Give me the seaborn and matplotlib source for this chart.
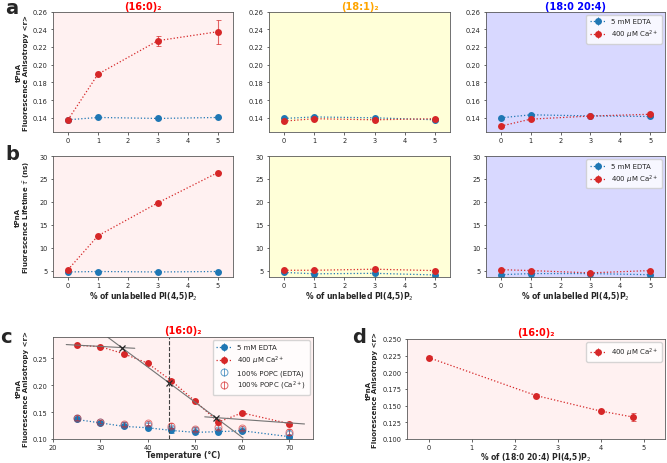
import numpy as np
import pandas as pd
import matplotlib.pyplot as plt
from matplotlib.lines import Line2D
from matplotlib.legend_handler import HandlerTuple
import seaborn as sns

sns.set_style("ticks")
plt.rcParams['font.family'] = ['DejaVu Sans']
plt.rcParams['font.size'] = 5
plt.rcParams['axes.linewidth'] = 0.6
plt.rcParams['axes.edgecolor'] = '0.35'
plt.rcParams['xtick.major.size'] = 1.8
plt.rcParams['ytick.major.size'] = 1.8
plt.rcParams['xtick.major.width'] = 0.5
plt.rcParams['ytick.major.width'] = 0.5
plt.rcParams['xtick.labelsize'] = 4.8
plt.rcParams['ytick.labelsize'] = 4.8
plt.rcParams['xtick.major.pad'] = 1.6
plt.rcParams['ytick.major.pad'] = 2

# ---- data ----
pip2_pct = [0, 1, 3, 5]

# anisotropy (row a)
aniso_160_edta = [0.1378, 0.1404, 0.1393, 0.1404]
aniso_160_ca = [0.1378, 0.1893, 0.2271, 0.2372]
aniso_160_ca_err = [0.001, 0.001, 0.0056, 0.0136]
aniso_181_edta = [0.1393, 0.1410, 0.1400, 0.1378]
aniso_181_ca = [0.1363, 0.1390, 0.1378, 0.1390]
aniso_184_edta = [0.1400, 0.1434, 0.1422, 0.1415]
aniso_184_ca = [0.1307, 0.1385, 0.1420, 0.1440]

# lifetime (row b)
tau_160_edta = [4.7, 4.8, 4.7, 4.8]
tau_160_ca = [5.2, 12.6, 19.8, 26.4]
tau_181_edta = [4.6, 4.3, 4.4, 4.05]
tau_181_ca = [5.07, 5.07, 5.3, 5.0]
tau_184_edta = [4.1, 4.35, 4.35, 4.1]
tau_184_ca = [5.2, 5.0, 4.5, 5.0]

# temperature scan (panel c)
temps = [25, 30, 35, 40, 45, 50, 55, 60, 70]
temp_edta = [0.1364, 0.1300, 0.1235, 0.1210, 0.1160, 0.1124, 0.1136, 0.1154, 0.1043]
temp_ca = [0.2746, 0.2720, 0.2587, 0.2413, 0.2087, 0.1710, 0.1315, 0.1487, 0.1284]
temp_edta_err = [0.003, 0.002, 0.002, 0.002, 0.004, 0.003, 0.003, 0.002, 0.002]
temp_ca_err = [0.002, 0.002, 0.002, 0.002, 0.003, 0.002, 0.004, 0.003, 0.004]
popc_edta = [0.139, 0.131, 0.127, 0.126, 0.121, 0.117, 0.116, 0.117, 0.110]
popc_ca = [0.140, 0.132, 0.128, 0.130, 0.125, 0.119, 0.122, 0.120, 0.113]
popc_err = [0.004, 0.003, 0.004, 0.004, 0.004, 0.004, 0.004, 0.004, 0.006]
# linear fits (endpoints T, r) for the three regimes of the Ca2+ curve
fit_gel_T, fit_gel_r = [22.8, 37.3], [0.2759, 0.2690]
fit_mid_T, fit_mid_r = [31.6, 60.2], [0.2895, 0.1020]
fit_fluid_T, fit_fluid_r = [52.1, 73.2], [0.1413, 0.1280]

# 18:0 20:4 PIP2 titration (panel d)
pip2_184_pct = [0, 2.5, 4, 4.75]
aniso_d = [0.2222, 0.1652, 0.1420, 0.1330]
aniso_d_err = [0.002, 0.002, 0.002, 0.006]

BLUE = sns.color_palette("tab10")[0]
RED = sns.color_palette("tab10")[3]
lbl_edta = "5 mM EDTA"
lbl_ca = r"400 $\mu$M Ca$^{2+}$"
MS = 5

W, H = 667, 464
fig = plt.figure(figsize=(W / 100, H / 100), dpi=100)


def rect(x0, y0, x1, y1):
    return [x0 / W, 1 - y1 / H, (x1 - x0) / W, (y1 - y0) / H]


def draw_series(ax, x, y, err, color, label):
    df = pd.DataFrame({"x": x, "y": y})
    sns.lineplot(data=df, x="x", y="y", ax=ax, color=color, marker="o",
                 markersize=MS, markeredgewidth=0, linestyle=":", linewidth=0.9,
                 errorbar=None, legend=False)
    ax.errorbar(x, y, yerr=err, fmt="none", ecolor=color, elinewidth=0.8,
                capsize=1.8, capthick=0.7, alpha=0.7)
    return (Line2D([], [], color=color, ls=":", lw=0.9, marker="o", ms=MS, mew=0),
            Line2D([], [], color=color, ls="", marker="|", ms=6, mew=0.7))


def add_legend(ax, handles, labels, **kw):
    ax.legend(handles, labels, handler_map={tuple: HandlerTuple(ndivide=1)},
              fontsize=5, loc="upper right", handlelength=2.2, borderpad=0.5,
              labelspacing=0.5, framealpha=0.8, edgecolor="0.8", fancybox=True, **kw)


cols = [(53, 233), (269, 450), (486, 665)]
bgs = ["#fff1f1", "#ffffd8", "#d8d8ff"]
titles = [("(16:0)\u2082", "#ff0000"), ("(18:1)\u2082", "#ffa500"), ("(18:0 20:4)", "#0000ff")]
a_sets = [(aniso_160_edta, aniso_160_ca, aniso_160_ca_err),
          (aniso_181_edta, aniso_181_ca, [0.001] * 4),
          (aniso_184_edta, aniso_184_ca, [0.001] * 4)]
b_sets = [(tau_160_edta, tau_160_ca), (tau_181_edta, tau_181_ca), (tau_184_edta, tau_184_ca)]

for i, (x0, x1) in enumerate(cols):
    # row a
    ax = fig.add_axes(rect(x0, 12.5, x1, 133))
    ax.set_facecolor(bgs[i])
    e, c, cerr = a_sets[i]
    h1 = draw_series(ax, pip2_pct, e, [0.001] * 4, BLUE, lbl_edta)
    h2 = draw_series(ax, pip2_pct, c, cerr, RED, lbl_ca)
    ax.set_xlim(-0.5, 5.5)
    ax.set_ylim(0.124, 0.26)
    ax.set_xticks(range(6))
    ax.set_yticks(np.arange(0.14, 0.261, 0.02))
    ax.set_yticklabels([f"{v:.2f}" for v in np.arange(0.14, 0.261, 0.02)])
    ax.set_xlabel("")
    ax.set_ylabel("")
    ax.set_title(titles[i][0], color=titles[i][1], fontweight="bold", fontsize=7, pad=2)
    if i == 0:
        ax.set_ylabel("tPnA\nFluorescence Anisotropy <r>", fontweight="bold", fontsize=5, labelpad=3)
    if i == 2:
        add_legend(ax, [h1, h2], [lbl_edta, lbl_ca])

    # row b
    ax = fig.add_axes(rect(x0, 157, x1, 278))
    ax.set_facecolor(bgs[i])
    e, c = b_sets[i]
    h1 = draw_series(ax, pip2_pct, e, [0.05] * 4, BLUE, lbl_edta)
    h2 = draw_series(ax, pip2_pct, c, [0.05] * 4, RED, lbl_ca)
    ax.set_xlim(-0.5, 5.5)
    ax.set_ylim(3.6, 30)
    ax.set_xticks(range(6))
    ax.set_yticks([5, 10, 15, 20, 25, 30])
    ax.set_xlabel(r"% of unlabelled PI(4,5)P$_2$", fontweight="bold", fontsize=5.5, labelpad=1)
    ax.set_ylabel("")
    if i == 0:
        ax.set_ylabel("tPnA\n" + r"Fluorescence Lifetime $\bar{\tau}$ (ns)", fontweight="bold",
                      fontsize=5, labelpad=5)
    if i == 2:
        add_legend(ax, [h1, h2], [lbl_edta, lbl_ca])

# panel c
ax = fig.add_axes(rect(53, 338, 313, 440))
ax.set_facecolor(bgs[0])
h1 = draw_series(ax, temps, temp_edta, temp_edta_err, BLUE, lbl_edta)
h2 = draw_series(ax, temps, temp_ca, temp_ca_err, RED, lbl_ca)
ax.errorbar(temps, popc_edta, yerr=popc_err, fmt="o", mfc="none", mec=BLUE, ms=MS,
            mew=0.7, ecolor=BLUE, elinewidth=0.7, capsize=1.5, alpha=0.6)
ax.errorbar(temps, popc_ca, yerr=popc_err, fmt="o", mfc="none", mec=RED, ms=MS,
            mew=0.7, ecolor=RED, elinewidth=0.7, capsize=1.5, alpha=0.6)
h3 = (Line2D([], [], color=BLUE, ls="", marker="o", mfc="none", ms=MS, mew=0.7, alpha=0.7),
      Line2D([], [], color=BLUE, ls="", marker="|", ms=6, mew=0.7, alpha=0.7))
h4 = (Line2D([], [], color=RED, ls="", marker="o", mfc="none", ms=MS, mew=0.7, alpha=0.7),
      Line2D([], [], color=RED, ls="", marker="|", ms=6, mew=0.7, alpha=0.7))
for fT, fr in [(fit_gel_T, fit_gel_r), (fit_mid_T, fit_mid_r), (fit_fluid_T, fit_fluid_r)]:
    ax.plot(fT, fr, color="0.45", lw=0.8)


def fit_line(T, r):
    m = (r[1] - r[0]) / (T[1] - T[0])
    return m, r[0] - m * T[0]


m1, b1 = fit_line(fit_gel_T, fit_gel_r)
m2, b2 = fit_line(fit_mid_T, fit_mid_r)
m3, b3 = fit_line(fit_fluid_T, fit_fluid_r)
t_on = (b2 - b1) / (m1 - m2)
t_off = (b3 - b2) / (m2 - m3)
cross_T = [t_on, (t_on + t_off) / 2, t_off]
cross_r = [m1 * t_on + b1, (m1 * t_on + b1 + m3 * t_off + b3) / 2, m3 * t_off + b3]
ax.plot(cross_T, cross_r, ls="", marker="x", color="0.15", ms=4, mew=0.9)
ax.axvline(cross_T[1], color="0.25", ls="--", lw=0.8)
ax.set_xlim(20, 75)
ax.set_ylim(0.10, 0.29)
ax.set_xticks([20, 30, 40, 50, 60, 70])
ax.set_yticks([0.10, 0.15, 0.20, 0.25])
ax.set_yticklabels(["0.10", "0.15", "0.20", "0.25"])
ax.set_xlabel("Temperature (\u00b0C)", fontweight="bold", fontsize=5.5, labelpad=0.5)
ax.set_ylabel("tPnA\nFluorescence Anisotropy <r>", fontweight="bold", fontsize=5, labelpad=3)
ax.set_title("(16:0)\u2082", color="#ff0000", fontweight="bold", fontsize=7, pad=3)
add_legend(ax, [h1, h2, h3, h4],
           [lbl_edta, lbl_ca, "100% POPC (EDTA)", r"100% POPC (Ca$^{2+}$)"])

# panel d
ax = fig.add_axes(rect(407, 340, 665, 440))
ax.set_facecolor(bgs[0])
h2 = draw_series(ax, pip2_184_pct, aniso_d, aniso_d_err, RED, lbl_ca)
ax.set_xlim(-0.5, 5.5)
ax.set_ylim(0.10, 0.25)
ax.set_xticks(range(6))
ax.set_yticks(np.arange(0.100, 0.2501, 0.025))
ax.set_yticklabels([f"{v:.3f}" for v in np.arange(0.100, 0.2501, 0.025)])
ax.set_xlabel(r"% of (18:0 20:4) PI(4,5)P$_2$", fontweight="bold", fontsize=5.5, labelpad=0.5)
ax.set_ylabel("tPnA\nFluorescence Anisotropy <r>", fontweight="bold", fontsize=5, labelpad=3)
ax.set_title("(16:0)\u2082", color="#ff0000", fontweight="bold", fontsize=7, pad=3)
add_legend(ax, [h2], [lbl_ca])

# panel letters
for letter, px, py in [("a", 5, 14), ("b", 5, 160), ("c", 0, 343), ("d", 352, 343)]:
    fig.text(px / W, 1 - py / H, letter, fontsize=14, fontweight="bold", ha="left", va="baseline")

fig.savefig("out.png", dpi=100)
